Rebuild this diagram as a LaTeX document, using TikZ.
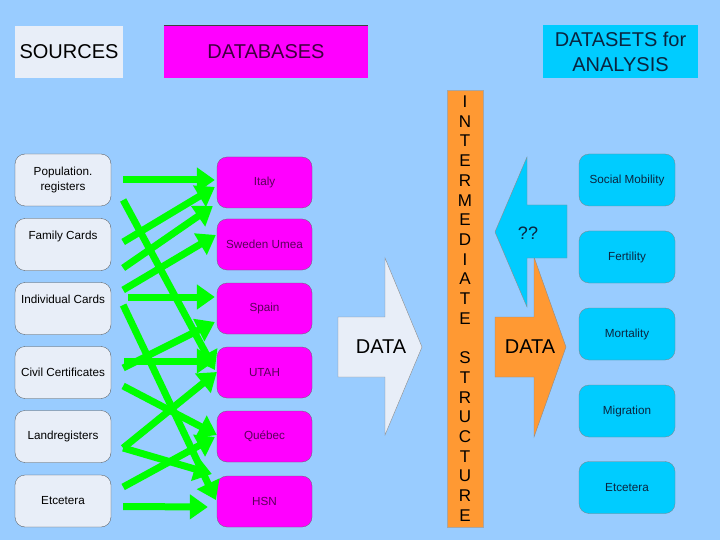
\documentclass[tikz,border=0pt]{standalone}
\usepackage{fontspec}
\setmainfont{Liberation Sans}
\usetikzlibrary{arrows.meta,calc}
\definecolor{bg}{HTML}{99CCFF}
\definecolor{srcfill}{HTML}{E8EEF8}
\definecolor{mag}{HTML}{FF00FF}
\definecolor{cyn}{HTML}{00CCFF}
\definecolor{org}{HTML}{FF9933}
\definecolor{grn}{HTML}{00FF00}
\definecolor{magtext}{HTML}{5A005A}
\definecolor{cyntext}{HTML}{0A2540}
\begin{document}
\begin{tikzpicture}[x=1pt,y=-1pt,
  every node/.style={font=\fontsize{11.7}{14.5}\selectfont},
  srcbox/.style={draw=black!70, line width=0.3pt, fill=srcfill, rounded corners=10pt,
    minimum width=96pt, minimum height=52pt, inner sep=0pt, align=center, text=black},
  raised/.style={text height=8.5pt, text depth=18.5pt},
  dbbox/.style={draw=black!60, line width=0.3pt, fill=mag, rounded corners=10pt,
    minimum width=95pt, minimum height=51pt, inner sep=0pt, text=magtext},
  dsbox/.style={draw=black!50, line width=0.3pt, fill=cyn, rounded corners=10pt,
    minimum width=96pt, minimum height=52pt, inner sep=0pt, text=cyntext},
  head/.style={inner sep=0pt, font=\fontsize{20}{25}\selectfont, align=center},
  bigtext/.style={inner sep=0pt, font=\fontsize{20}{24}\selectfont},
  bigarrow/.style={draw=black!45, line width=0.4pt},
  link/.style={draw=grn, line width=7pt, -{Triangle[width=24pt,length=18pt]}},
]
\fill[bg] (0,0) rectangle (720,540);
\useasboundingbox (0,0) rectangle (720,540);

% headers
\node[head, fill=srcfill, minimum width=108pt, minimum height=52pt] (hsrc) at (69,52) {SOURCES};
\node[head, fill=mag, minimum width=204pt, minimum height=52pt, text=magtext!70!black] (hdb) at (266,52) {DATABASES};
\draw[black!75, line width=0.6pt] (hdb.north west) -- (hdb.north east);
\node[head, fill=cyn, minimum width=155pt, minimum height=53pt, text=cyntext] (hds) at (620.5,51.5) {DATASETS for\\ANALYSIS};

% sources
\node[srcbox] (pop) at (63,180) {Population.\\registers};
\node[srcbox, raised] (fam) at (63,244.5) {Family Cards};
\node[srcbox, raised] (ind) at (63,308.5) {Individual Cards};
\node[srcbox] (civ) at (63,372.5) {Civil Certificates};
\node[srcbox] (lan) at (63,436.5) {Landregisters};
\node[srcbox] (etc) at (63,501) {Etcetera};

% databases
\node[dbbox] (ita) at (264.5,182.5) {Italy};
\node[dbbox] (swe) at (264.5,244.5) {Sweden Umea};
\node[dbbox] (spa) at (264.5,308.5) {Spain};
\node[dbbox] (uta) at (264.5,372.5) {UTAH};
\node[dbbox] (que) at (264.5,436.5) {Québec};
\node[dbbox] (hsn) at (264.5,501.5) {HSN};

% datasets
\node[dsbox] (soc) at (627,180) {Social Mobility};
\node[dsbox] (fer) at (627,257) {Fertility};
\node[dsbox] (mor) at (627,334) {Mortality};
\node[dsbox] (mig) at (627,411) {Migration};
\node[dsbox] (dse) at (627,487.5) {Etcetera};

% intermediate structure bar
\node[draw=black!35, line width=0.4pt, fill=org, minimum width=36pt, minimum height=437pt,
  inner sep=0pt, align=center, font=\fontsize{17}{19.7}\selectfont] (bar) at (465,308.5)
  {I\\N\\T\\E\\R\\M\\E\\D\\I\\A\\T\\E\\[19.7pt]S\\T\\R\\U\\C\\T\\U\\R\\E};

% big arrows
\filldraw[bigarrow, fill=srcfill] (338,317) -- (385,317) -- (385,258) -- (422,347)
  -- (385,435) -- (385,377) -- (338,377) -- cycle;
\node[bigtext] (data1) at (381,347) {DATA};
\filldraw[bigarrow, fill=org] (495,317) -- (534,317) -- (534,257) -- (566,347)
  -- (534,437) -- (534,377) -- (495,377) -- cycle;
\node[bigtext] (data2) at (530,347) {DATA};
\filldraw[bigarrow, fill=cyn] (567,205) -- (527,205) -- (527,157) -- (495,232)
  -- (527,307) -- (527,258) -- (567,258) -- cycle;
\node[bigtext, font=\fontsize{18}{22}\selectfont, text=cyntext] (qq) at (528,233) {??};

% green links
\draw[link] ([shift={(12,0)}]pop.east) -- ([shift={(-2,-2.5)}]ita.west);
\draw[link] ([shift={(12,20)}]pop.east) -- ([shift={(-2,-2.5)}]uta.west);
\draw[link] ([shift={(12,-2.5)}]fam.east) -- ([shift={(-2,4.5)}]ita.west);
\draw[link] ([shift={(12,23.5)}]fam.east) -- ([shift={(-4,23.5)}]ita.west);
\draw[link] ([shift={(12,-18.5)}]ind.east) -- ([shift={(-1,-9.5)}]swe.west);
\draw[link] ([shift={(17,-11.5)}]ind.east) -- ([shift={(-2,-11.5)}]spa.west);
\draw[link] ([shift={(12,-3.5)}]ind.east) -- ([shift={(-1,-1.5)}]hsn.west);
\draw[link] ([shift={(12,-4.5)}]civ.east) -- ([shift={(-2,13.5)}]spa.west);
\draw[link] ([shift={(13,-11.5)}]civ.east) -- ([shift={(-2,-11.5)}]uta.west);
\draw[link] ([shift={(12,13.5)}]civ.east) -- ([shift={(0,-1.5)}]que.west);
\draw[link] ([shift={(12,11.5)}]lan.east) -- ([shift={(0,-0.5)}]uta.west);
\draw[link] ([shift={(12,11.5)}]lan.east) -- ([shift={(-5,-27.5)}]hsn.west);
\draw[link] ([shift={(12,-14)}]etc.east) -- ([shift={(-2,0.5)}]que.west);
\draw[link] ([shift={(12,5.5)}]etc.east) -- ([shift={(-9,5.5)}]hsn.west);
\end{tikzpicture}
\end{document}
